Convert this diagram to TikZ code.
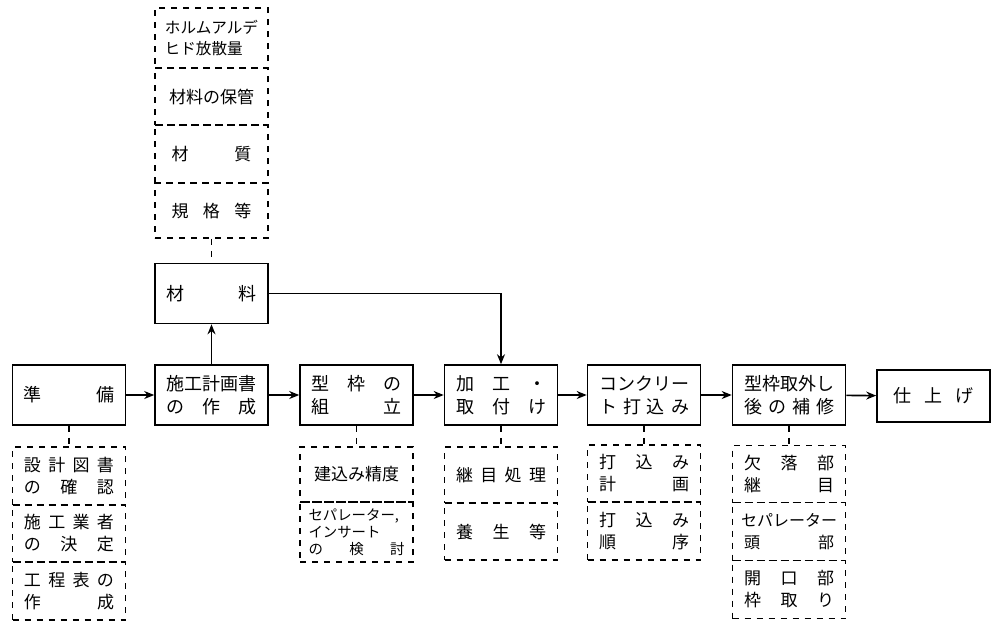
\documentclass[tikz,border=0pt]{standalone}
\usepackage{fontspec}
\setmainfont{Noto Sans CJK JP}
\usetikzlibrary{arrows.meta}
\newcommand{\jsp}[2]{\makebox[#1pt][s]{#2}}
\begin{document}
\begin{tikzpicture}[x=0.5pt,y=-0.5pt,
  box/.style={draw,thick,minimum width=56.5pt,minimum height=30pt,inner sep=0pt,align=center,font=\fontsize{9}{11.5}\selectfont},
  cell/.style={draw,dashed,thick,minimum width=56.5pt,inner sep=0pt,align=center,font=\fontsize{8.5}{11}\selectfont},
  arr/.style={-{Stealth[length=5pt,width=4pt]},thick},
  dl/.style={dashed,thick}]
\useasboundingbox (0,0) rectangle (1000,629);
% main row
\node[box] (a) at (69,395) {\jsp{45}{準\hfill 備}};
\node[box] (b) at (211.5,395) {\jsp{45}{施\hfill 工\hfill 計\hfill 画\hfill 書}\\\jsp{45}{の\hfill 作\hfill 成}};
\node[box] (c) at (356.5,395) {\jsp{45}{型\hfill 枠\hfill の}\\\jsp{45}{組\hfill 立}};
\node[box] (d) at (501,395) {\jsp{45}{加\hfill 工\hfill ・}\\\jsp{45}{取\hfill 付\hfill け}};
\node[box] (e) at (644,395) {\jsp{45}{コ\hfill ン\hfill ク\hfill リ\hfill ー}\\\jsp{45}{ト\hfill 打\hfill 込\hfill み}};
\node[box] (f) at (789,395) {\jsp{45}{型\hfill 枠\hfill 取\hfill 外\hfill し}\\\jsp{45}{後\hfill の\hfill 補\hfill 修}};
\node[box,minimum height=26pt] (g) at (933.5,396) {\jsp{40}{仕\hfill 上\hfill げ}};
\node[box] (m) at (211.5,293.5) {\jsp{45}{材\hfill 料}};
\foreach \u/\v in {a/b,b/c,c/d,d/e,e/f,f/g} \draw[arr] (\u) -- (\v);
\draw[arr] (b) -- (m);
\draw[arr] (m.east) -| (d.north);
% top stack
\node[cell,minimum height=30pt,font=\fontsize{7.8}{10.5}\selectfont] (t1) at (211.5,38) {ホルムアルデ\\\makebox[46.8pt][l]{ヒド放散量}};
\node[cell,minimum height=28.5pt] (t2) at (211.5,96.5) {材料の保管};
\node[cell,minimum height=29pt] (t3) at (211.5,154) {\jsp{40}{材\hfill 質}};
\node[cell,minimum height=27.5pt] (t4) at (211.5,210.5) {\jsp{40}{規\hfill 格\hfill 等}};
\draw[dl] (t4) -- (m);
% under a
\node[cell,minimum height=29pt] (a1) at (69,476) {\jsp{45}{設\hfill 計\hfill 図\hfill 書}\\\jsp{45}{の\hfill 確\hfill 認}};
\node[cell,minimum height=28.5pt] (a2) at (69,533.5) {\jsp{45}{施\hfill 工\hfill 業\hfill 者}\\\jsp{45}{の\hfill 決\hfill 定}};
\node[cell,minimum height=29pt] (a3) at (69,591) {\jsp{45}{工\hfill 程\hfill 表\hfill の}\\\jsp{45}{作\hfill 成}};
\draw[dl] (a) -- (a1);
% under c
\node[cell,minimum height=27.5pt] (c1) at (356.5,474.5) {建込み精度};
\node[cell,minimum height=30pt,font=\fontsize{7.2}{8.6}\selectfont] (c2) at (356.5,532) {\makebox[48pt][l]{セパレーター,}\\\makebox[48pt][l]{インサート}\\\jsp{48}{の\hfill 検\hfill 討}};
\draw[dl] (c) -- (c1);
% under d
\node[cell,minimum height=28pt] (d1) at (501,475) {\jsp{45}{継\hfill 目\hfill 処\hfill 理}};
\node[cell,minimum height=28.5pt] (d2) at (501,531.5) {\jsp{45}{養\hfill 生\hfill 等}};
\draw[dl] (d) -- (d1);
% under e
\node[cell,minimum height=28.5pt] (e1) at (644,473.5) {\jsp{45}{打\hfill 込\hfill み}\\\jsp{45}{計\hfill 画}};
\node[cell,minimum height=29pt] (e2) at (644,531) {\jsp{45}{打\hfill 込\hfill み}\\\jsp{45}{順\hfill 序}};
\draw[dl] (e) -- (e1);
% under f
\node[cell,minimum height=28.5pt] (f1) at (789,474) {\jsp{45}{欠\hfill 落\hfill 部}\\\jsp{45}{継\hfill 目}};
\node[cell,minimum height=29pt,font=\fontsize{8}{11}\selectfont] (f2) at (789,531.5) {セパレーター\\\jsp{45}{頭\hfill 部}};
\node[cell,minimum height=29pt] (f3) at (789,589.5) {\jsp{45}{開\hfill 口\hfill 部}\\\jsp{45}{枠\hfill 取\hfill り}};
\draw[dl] (f) -- (f1);
\end{tikzpicture}
\end{document}
